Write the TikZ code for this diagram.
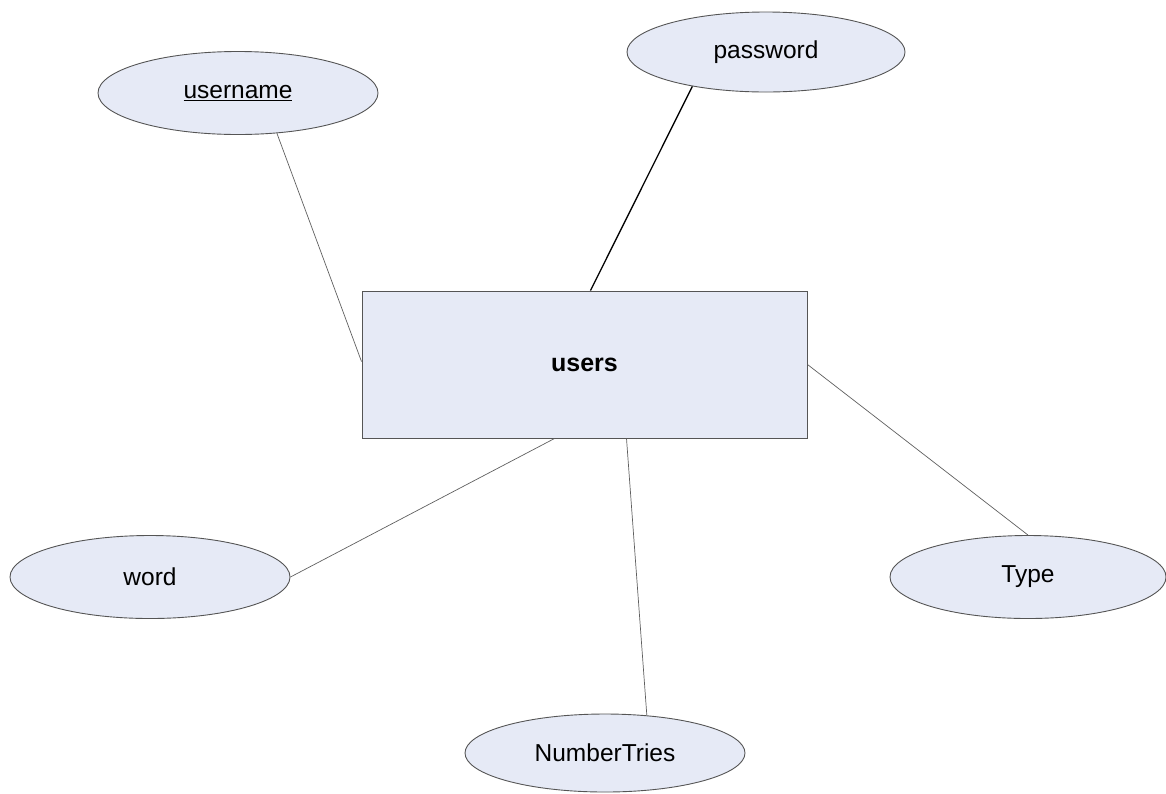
\documentclass[tikz,border=0pt]{standalone}
\usepackage{fontspec}
\setmainfont{Liberation Sans}
\usetikzlibrary{shapes.geometric}
\definecolor{entfill}{RGB}{230,234,246}
\definecolor{edgegray}{RGB}{85,85,85}
\definecolor{linkgray}{RGB}{95,95,95}
\tikzset{
  attr/.style={ellipse, draw=edgegray, line width=0.9pt, fill=entfill,
    minimum width=280pt, minimum height=83pt, inner sep=0pt,
    font=\fontsize{24.5}{28}\selectfont},
  entity/.style={rectangle, draw=edgegray, line width=1pt, fill=entfill,
    minimum width=445pt, minimum height=147pt, inner sep=0pt,
    font=\fontsize{25}{29}\selectfont\bfseries},
  link/.style={draw=linkgray, line width=0.7pt},
  strong link/.style={draw=black, line width=1.3pt}
}
\begin{document}
\begin{tikzpicture}[x=1pt,y=-1pt]
  \useasboundingbox (0,0) rectangle (1166,793);

  % entity
  \node[entity] (users) at (584.5,364.5) {users};

  % attributes
  \node[attr] (uname) at (238,93) {\underline{username}};
  \node[attr, minimum width=278pt, minimum height=80pt] (pw) at (766,52) {password};
  \node[attr] (word) at (150,577) {word};
  \node[attr, minimum width=276pt] (type) at (1028,577) {Type};
  \node[attr, minimum height=78pt] (tries) at (605,753) {NumberTries};

  % relationships between entity and attributes
  \draw[link] (uname.-46) -- ([yshift=3pt]users.west);
  \draw[strong link] (pw.-155) -- ([xshift=6pt]users.north);
  \draw[link] ([xshift=-30pt]users.south) -- (word.east);
  \draw[link] ([xshift=42pt]users.south) -- (tries.42);
  \draw[link] (users.east) -- (type.north);
\end{tikzpicture}
\end{document}
